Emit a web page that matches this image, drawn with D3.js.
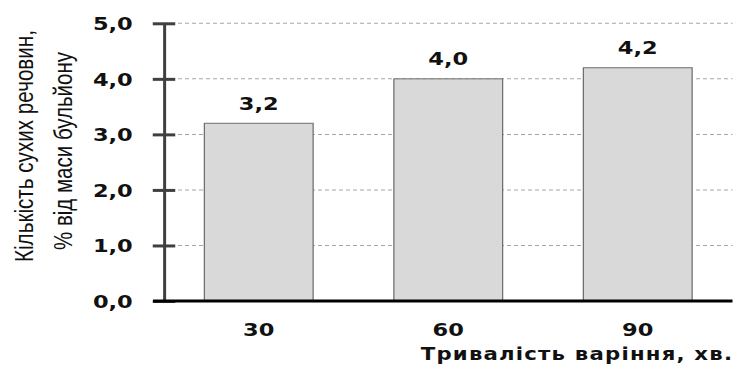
<!DOCTYPE html>
<html>
<head>
<meta charset="utf-8">
<script src="https://cdn.jsdelivr.net/npm/d3@7"></script>
<style>
    html, body { margin: 0; padding: 0; background: #fff; }
    #chart { width: 735px; height: 369px; }
    .tick-label { font-family: "DejaVu Sans", Verdana, sans-serif; font-weight: bold; font-size: 18px; fill: #111; }
    .axis-title { font-family: "Liberation Sans", Arial, sans-serif; font-size: 21px; fill: #111; }
</style>
</head>
<body>
<div id="chart"></div>
<script>
// boiling time, min
const categories = ["30", "60", "90"];
// dry matter, % of broth mass
const values = [3.2, 4.0, 4.2];
const yTicks = [0, 1, 2, 3, 4, 5];
const yTitleLines = ["Кількість сухих речовин,", "% від маси бульйону"];
const xTitle = "Тривалість варіння, хв.";

const W = 735, H = 369;
// the original picture is stretched sideways, so draw narrow and scale x
const sx = 1.25;

const fmt = v => d3.format(".1f")(v).replace(".", ",");

const svg = d3.select("#chart").append("svg")
    .attr("width", W)
    .attr("height", H);

const g = svg.append("g").attr("transform", `scale(${sx},1)`);

const x0 = 131.2, x1 = 586;
const x = d3.scaleBand().domain(categories).range([x0, x1]).paddingInner(0.426).paddingOuter(0.213);
const y = d3.scaleLinear().domain([0, 5]).range([301, 23.3]);

// dashed grid
g.append("g")
    .selectAll("line")
    .data(yTicks.filter(t => t > 0))
    .enter().append("line")
    .attr("x1", x0).attr("x2", x1)
    .attr("y1", d => y(d)).attr("y2", d => y(d))
    .attr("stroke", "#a6a6a6")
    .attr("stroke-width", 1)
    .attr("stroke-dasharray", "3.2,2.4");

// bars
g.append("g")
    .selectAll("rect")
    .data(values)
    .enter().append("rect")
    .attr("x", (d, i) => x(categories[i]))
    .attr("y", d => y(d))
    .attr("width", x.bandwidth())
    .attr("height", d => y(0) - y(d))
    .attr("fill", "#d9d9d9")
    .attr("stroke", "#6e6e6e")
    .attr("stroke-width", 1);

// value labels
g.append("g")
    .selectAll("text")
    .data(values)
    .enter().append("text")
    .attr("class", "tick-label")
    .attr("x", (d, i) => x(categories[i]) + x.bandwidth() / 2)
    .attr("y", d => y(d) - 13.5)
    .attr("text-anchor", "middle")
    .text(d => fmt(d));

// y axis
const yAxis = g.append("g")
    .attr("transform", `translate(${x0},0)`)
    .call(d3.axisLeft(y).tickValues(yTicks).tickFormat(fmt).tickSize(0).tickPadding(25));
yAxis.select(".domain").attr("stroke", "#404040").attr("stroke-width", 2.4);
yAxis.selectAll(".tick text")
    .attr("class", "tick-label")
    .attr("font-family", null).attr("font-size", null)
    .attr("fill", null)
    .attr("dy", "0.36em");
yAxis.selectAll(".tick").append("line")
    .attr("x1", -9).attr("x2", 9)
    .attr("stroke", "#404040")
    .attr("stroke-width", 3);

// x axis
const xAxis = g.append("g")
    .attr("transform", `translate(0,${y(0)})`)
    .call(d3.axisBottom(x).tickSize(0).tickPadding(22));
xAxis.select(".domain").remove();
xAxis.append("line")
    .attr("x1", 122.4).attr("x2", x1)
    .attr("stroke", "#000")
    .attr("stroke-width", 3);
xAxis.selectAll(".tick text")
    .attr("class", "tick-label")
    .attr("font-family", null).attr("font-size", null)
    .attr("fill", null);

// axis titles
g.append("text")
    .attr("class", "tick-label")
    .attr("x", 585.6)
    .attr("y", 360)
    .attr("text-anchor", "end")
    .attr("textLength", 249)
    .attr("lengthAdjust", "spacing")
    .style("font-size", "17px")
    .text(xTitle);

const titleX = [26.4, 57.6];
const titleY = [146, 151];
const titleLen = [232, 198];
g.append("g")
    .selectAll("text")
    .data(yTitleLines)
    .enter().append("text")
    .attr("class", "axis-title")
    .attr("text-anchor", "middle")
    .attr("transform", (d, i) => `translate(${titleX[i]},${titleY[i]}) rotate(-90)`)
    .attr("textLength", (d, i) => titleLen[i])
    .attr("lengthAdjust", "spacingAndGlyphs")
    .text(d => d);
</script>
</body>
</html>
